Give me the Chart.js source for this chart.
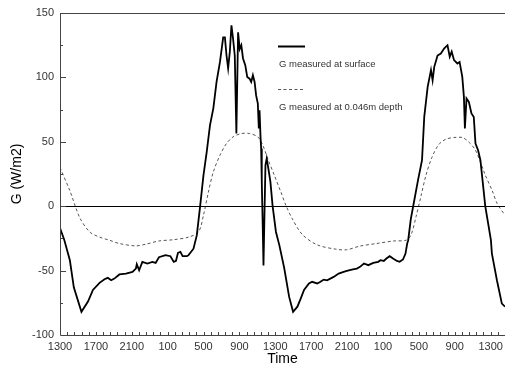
<!DOCTYPE html>
<html>
<head>
<meta charset="utf-8">
<script src="https://cdn.jsdelivr.net/npm/chart.js@4.4.0/dist/chart.umd.min.js"></script>
<style>
  body { margin: 0; background: #fff; }
  canvas { display: block; }
</style>
</head>
<body>
<canvas id="fluxChart" width="510" height="365"></canvas>
<script>
// Hours since 13:00 on day one
const surfaceHours = [
    0, 0.47, 1.10, 1.54, 2.39, 3.12, 3.67, 4.41, 4.96, 5.33, 5.70, 6.06, 6.62, 7.35, 8.08,
    8.46, 8.56, 8.82, 9.18, 9.74, 10.29, 10.66, 11.03, 11.76, 12.31, 12.68, 12.93, 13.15,
    13.42, 13.67, 14.15, 14.33, 14.88, 15.25, 15.62, 15.99, 16.35, 16.72, 17.09, 17.45,
    17.83, 18.19, 18.38, 18.56, 18.74, 18.93, 19.11, 19.29, 19.48, 19.66, 19.85, 20.03,
    20.21, 20.40, 20.65, 20.87, 21.13, 21.31, 21.50, 21.69, 21.86, 22.05, 22.16, 22.24,
    22.35, 22.42, 22.49, 22.60, 22.68, 22.79, 22.90, 23.04, 23.23, 23.45, 23.70, 24.07,
    24.44, 24.99, 25.54, 25.98, 26.46, 26.83, 27.2, 27.75, 28.1, 28.67, 29.03, 29.4, 29.77,
    30.5, 31.06, 31.61, 31.97, 32.52, 33.08, 33.44, 33.88, 34.36, 34.92, 35.47, 35.72,
    36.09, 36.38, 36.75, 37.12, 37.56, 37.85, 38.23, 38.51, 38.7, 38.81, 39.1, 39.5, 39.9,
    40.35, 40.6, 40.98, 41.35, 41.53, 41.71, 42.08, 42.45, 42.81, 43.19, 43.44, 43.66,
    43.92, 44.29, 44.54, 44.84, 45.02, 45.13, 45.31, 45.57, 45.86, 46.12, 46.31, 46.6,
    46.86, 47.4, 48.03, 48.14, 48.7, 49.25, 49.6
];
const surfaceValues = [
    -17, -26, -42, -63, -82, -74, -65, -59.5, -56.7, -55.6, -57.5, -56.2, -53, -52.3, -51,
    -48.4, -45, -49.7, -43.2, -44.5, -43.2, -44, -39.6, -38, -38.8, -43.2, -42.4, -36.2,
    -35.4, -38.8, -38.8, -38, -33, -22.5, 0, 24, 42, 63, 76, 96.5,
    112, 131, 131, 117, 107, 120, 140.5, 130, 117, 56.5, 135, 122,
    125, 114.7, 109.5, 100.4, 99, 96.5, 101.7, 96.5, 86, 79.7, 60.3, 74.5,
    53.8, 44.8, 19, -17, -46, -7, 32, 37, 29, 19, 0, -20,
    -30, -48, -70.4, -82, -78, -71.7, -65, -60, -58.7, -60, -58.7, -57, -57.5,
    -54.9, -52.3, -51, -50.2, -49.2, -48.4, -47.1, -44.5, -45.8, -44, -43.2, -41.9,
    -42.5, -40.6, -38.8, -40.6, -42.5, -43.2, -41.4, -36.8, -29, -26.4, -10, 5, 20,
    35.7, 69.3, 92.6, 105.6, 97.8, 108, 117, 118.5, 122.4, 125, 116, 120,
    113.4, 110.8, 112, 100.4, 84.9, 60.3, 83.6, 81, 72, 69.3, 48.7, 43.5,
    35.7, 0, -26.4, -36.8, -57.5, -75.6, -78
];

const depthHours = [
    0, 1.10, 2.21, 3.31, 4.41, 5.51, 6.62, 8.46, 9.56, 11.03, 12.68, 14.33, 15.44, 15.99,
    16.54, 17.09, 17.83, 18.56, 19.29, 20.21, 21.13, 22.05, 22.6, 23.15, 23.89, 24.62,
    25.17, 25.91, 27.01, 28.67, 30.87, 31.97, 33.41, 35.28, 37.16, 38.59, 39.14, 39.69,
    40.24, 40.79, 41.46, 42.23, 43.0, 43.88, 44.87, 45.53, 46.31, 47.41, 48.18, 48.73, 49.6
];
const depthValues = [
    30, 12, -9, -20, -24, -26.4, -29, -30.8, -29.5, -27, -26, -24, -20, -7,
    11, 26.6, 39.6, 48.7, 53.8, 56.4, 56.4, 53.8, 47.4, 37, 24, 11,
    0.8, -10, -22, -30, -33.5, -33.8, -31, -29, -27, -26.4, -22, -8,
    8, 24, 38, 48, 52, 53.3, 53.3, 50, 43.5, 24, 12, 2, -7
];

const yTickValues = [-100, -50, 0, 50, 100, 150];
const seriesLabels = ['G measured at surface', 'G measured at 0.046m depth'];

const axisColor = '#444';
const textColor = '#333';

function toPoints(xs, ys) {
    return xs.map((x, i) => ({ x: x, y: ys[i] }));
}

// Frame, zero line, inside tick marks and the legend
const framePlugin = {
    id: 'frame',
    afterDatasetsDraw(chart) {
        const { ctx, chartArea: a, scales } = chart;
        const xs = scales.x, ys = scales.y;
        ctx.save();
        ctx.strokeStyle = axisColor;
        ctx.lineWidth = 1;
        ctx.beginPath();
        ctx.moveTo(a.left + 0.5, a.top + 0.5);
        ctx.lineTo(a.right, a.top + 0.5);
        ctx.moveTo(a.left + 0.5, a.top);
        ctx.lineTo(a.left + 0.5, a.bottom + 0.5);
        ctx.lineTo(a.right, a.bottom + 0.5);
        ctx.stroke();

        // zero line
        const y0 = Math.round(ys.getPixelForValue(0)) + 0.5;
        ctx.strokeStyle = '#000';
        ctx.beginPath();
        ctx.moveTo(a.left, y0);
        ctx.lineTo(a.right, y0);
        ctx.stroke();

        // ticks pointing inward
        ctx.strokeStyle = axisColor;
        ctx.beginPath();
        xs.ticks.forEach(t => {
            const px = Math.round(xs.getPixelForValue(t.value)) + 0.5;
            if (px <= a.left + 1 || px >= a.right) return;
            ctx.moveTo(px, a.bottom);
            ctx.lineTo(px, a.bottom - 3);
        });
        ys.ticks.forEach(t => {
            const py = Math.round(ys.getPixelForValue(t.value)) + 0.5;
            if (py <= a.top + 1 || py >= a.bottom) return;
            const len = yTickValues.includes(t.value) ? 6 : 3;
            ctx.moveTo(a.left, py);
            ctx.lineTo(a.left + len, py);
        });
        ctx.stroke();

        // legend
        const lx = 278;
        ctx.strokeStyle = '#000';
        ctx.lineWidth = 2;
        ctx.beginPath();
        ctx.moveTo(lx, 46.5);
        ctx.lineTo(lx + 27, 46.5);
        ctx.stroke();
        ctx.strokeStyle = '#555';
        ctx.lineWidth = 1;
        ctx.setLineDash([3, 2.5]);
        ctx.beginPath();
        ctx.moveTo(lx, 89.5);
        ctx.lineTo(lx + 27, 89.5);
        ctx.stroke();
        ctx.setLineDash([]);
        ctx.fillStyle = textColor;
        ctx.font = '9.5px "Liberation Sans", Arial, sans-serif';
        ctx.textBaseline = 'middle';
        ctx.textAlign = 'left';
        ctx.fillText(seriesLabels[0], lx + 1, 64.5);
        ctx.fillText(seriesLabels[1], lx + 1, 107.5);
        ctx.restore();
    }
};

const chart = new Chart(document.getElementById('fluxChart'), {
    type: 'line',
    data: {
        datasets: [{
            label: seriesLabels[0],
            data: toPoints(surfaceHours, surfaceValues),
            borderColor: '#000',
            borderWidth: 1.8,
            pointRadius: 0,
            tension: 0,
            order: 1
        }, {
            label: seriesLabels[1],
            data: toPoints(depthHours, depthValues),
            borderColor: '#555',
            borderWidth: 1,
            borderDash: [3, 2.5],
            pointRadius: 0,
            tension: 0.3,
            order: 2
        }]
    },
    options: {
        responsive: false,
        animation: false,
        layout: { padding: { top: 13, right: 0, left: 0, bottom: 0 } },
        plugins: {
            legend: { display: false },
            tooltip: { enabled: false }
        },
        scales: {
            x: {
                type: 'linear',
                min: 0,
                max: 49.6,
                afterFit: s => { s.height = 30; },
                grid: { display: false, drawTicks: false },
                border: { display: false },
                ticks: {
                    stepSize: 0.8,
                    autoSkip: false,
                    maxRotation: 0,
                    padding: 5,
                    color: textColor,
                    font: { family: '"Liberation Sans", Arial, sans-serif', size: 11 },
                    callback: function(value) {
                        const n = Math.round(value / 0.8);
                        if (n % 5 !== 0) return '';
                        const hour = (13 + Math.round(value)) % 24;
                        return String(hour * 100);
                    }
                },
                title: {
                    display: true,
                    text: 'Time',
                    color: '#000',
                    padding: { top: 0, bottom: -3 },
                    font: { family: '"Liberation Sans", Arial, sans-serif', size: 14 }
                }
            },
            y: {
                min: -100,
                max: 150,
                afterFit: s => { s.width = 60; },
                grid: { display: false, drawTicks: false },
                border: { display: false },
                ticks: {
                    stepSize: 25,
                    padding: 6,
                    color: textColor,
                    font: { family: '"Liberation Sans", Arial, sans-serif', size: 11 },
                    callback: function(value) {
                        return yTickValues.includes(value) ? String(value) : '';
                    }
                },
                title: {
                    display: true,
                    text: 'G (W/m2)',
                    color: '#000',
                    padding: { top: 9, bottom: 0 },
                    font: { family: '"Liberation Sans", Arial, sans-serif', size: 14 }
                }
            }
        }
    },
    plugins: [framePlugin]
});
</script>
</body>
</html>
